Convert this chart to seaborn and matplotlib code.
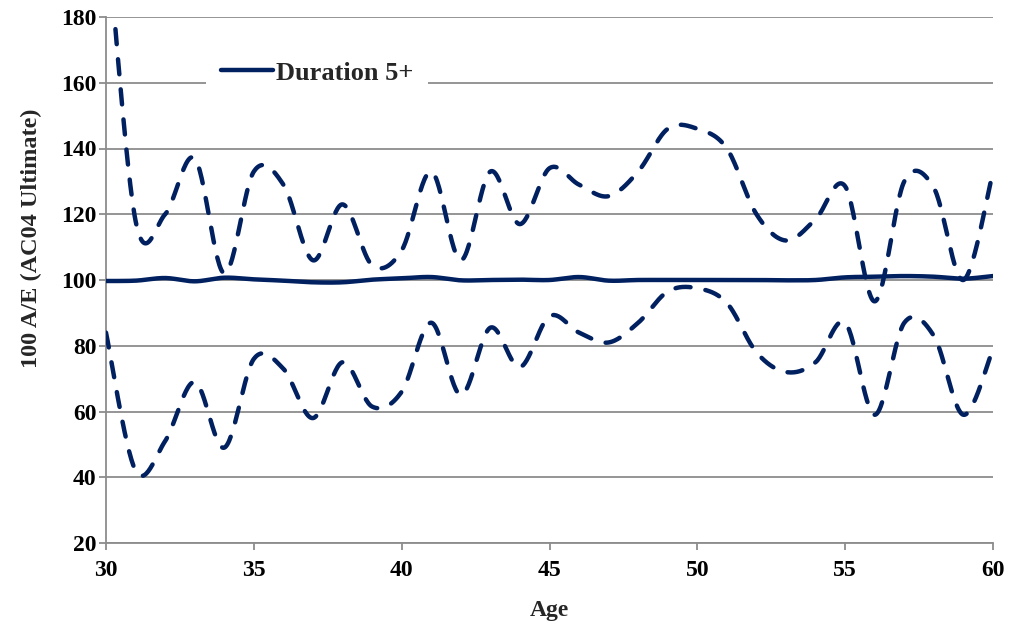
import numpy as np
import pandas as pd
import matplotlib
matplotlib.use("Agg")
import matplotlib.pyplot as plt
import seaborn as sns

# ---------------- data ----------------
ages = list(range(30, 61))
duration5 = [99.7, 99.8, 100.6, 99.6, 100.7, 100.2, 99.8, 99.3, 99.3, 100.1,
             100.5, 100.9, 99.9, 100.0, 100.1, 100.0, 100.9, 99.8, 100.0, 100.0,
             100.0, 100.0, 100.0, 99.9, 100.0, 100.8, 101.0, 101.2, 101.0, 100.4,
             101.2]
upper_ci = [210, 118, 120, 137, 102, 133, 129, 106, 123, 104.5,
            109, 133, 106, 133, 117, 134, 129, 125.5, 133, 146,
            146, 140, 120, 112, 118.5, 128.5, 93.5, 130, 128, 100,
            133]
lower_ci = [84, 42, 51, 69, 49, 76, 73, 58, 75, 61.5,
            66, 87, 65, 85.5, 73.5, 89, 84, 81, 87, 96.5,
            97.5, 93, 78, 72, 75, 87, 59, 87, 83, 59,
            79]
series_label = "Duration 5+"
x_label = "Age"
y_label = "100 A/E (AC04 Ultimate)"
x_ticks = [30, 35, 40, 45, 50, 55, 60]
y_ticks = [20, 40, 60, 80, 100, 120, 140, 160, 180]

NAVY = "#002060"
GRID = "#8c8c8c"
FONT = "Liberation Serif"


def smooth(xs, ys, n=30):
    """Excel-style smoothed line (cubic Bezier through the points)."""
    P = np.column_stack([xs, ys]).astype(float)
    m = len(P)
    out = []
    for i in range(m - 1):
        p0 = P[i - 1] if i > 0 else P[i]
        p1, p2 = P[i], P[i + 1]
        p3 = P[i + 2] if i + 2 < m else P[i + 1]
        c1 = p1 + (p2 - p0) / 6.0
        c2 = p2 - (p3 - p1) / 6.0
        t = np.linspace(0, 1, n, endpoint=(i == m - 2))[:, None]
        seg = ((1 - t) ** 3) * p1 + 3 * ((1 - t) ** 2) * t * c1 + 3 * (1 - t) * t ** 2 * c2 + t ** 3 * p2
        out.append(seg)
    out = np.vstack(out)
    return out[:, 0], out[:, 1]


sns.set_theme(style="white")
plt.rcParams["font.family"] = [FONT, "DejaVu Serif"]
plt.rcParams["font.weight"] = "bold"

fig = plt.figure(figsize=(10.11, 6.26), dpi=100)
ax = fig.add_axes([106 / 1011, 1 - 543 / 626, (993 - 106) / 1011, (543 - 17) / 626])

frames = []
for name, vals in [("mid", duration5), ("up", upper_ci), ("lo", lower_ci)]:
    sx, sy = smooth(ages, vals)
    frames.append(pd.DataFrame({"Age": sx, "val": sy, "series": name}))
df = pd.concat(frames, ignore_index=True)

lw = 3.2
dash = (0, (3.4, 3.4))
sns.lineplot(data=df[df.series == "up"], x="Age", y="val", ax=ax, color=NAVY,
             lw=lw, sort=False, estimator=None, legend=False,
             linestyle=dash, dash_capstyle="round", zorder=3)
sns.lineplot(data=df[df.series == "lo"], x="Age", y="val", ax=ax, color=NAVY,
             lw=lw, sort=False, estimator=None, legend=False,
             linestyle=dash, dash_capstyle="round", zorder=3)
sns.lineplot(data=df[df.series == "mid"], x="Age", y="val", ax=ax, color=NAVY,
             lw=lw, sort=False, estimator=None, label=series_label,
             solid_capstyle="round", zorder=4)

ax.set_xlim(30, 60)
ax.set_ylim(20, 180)
ax.set_xticks(x_ticks)
ax.set_yticks(y_ticks)
ax.set_xticklabels([str(t) for t in x_ticks], fontsize=17, fontweight="bold")
ax.set_yticklabels([str(t) for t in y_ticks], fontsize=17, fontweight="bold")
ax.set_xlabel(x_label, fontsize=17, fontweight="bold", labelpad=14)
ax.set_ylabel(y_label, fontsize=17.5, fontweight="bold")
ax.yaxis.set_label_coords(-0.072, 0.58)

ax.grid(axis="y", color=GRID, lw=1.3)
ax.grid(axis="x", visible=False)
ax.set_axisbelow(True)
for s in ["top", "right"]:
    ax.spines[s].set_visible(False)
for s in ["left", "bottom"]:
    ax.spines[s].set_color(GRID)
    ax.spines[s].set_linewidth(1.3)
ax.tick_params(axis="both", which="major", direction="out", length=5, width=1.3,
               color=GRID, left=True, bottom=True, labelcolor="black")
ax.tick_params(axis="y", pad=2)
ax.tick_params(axis="x", pad=7)

leg = ax.legend(loc="center left", bbox_to_anchor=((206 - 106) / 887, 1 - (73 - 17) / 526),
                borderaxespad=0, frameon=True, fancybox=False, framealpha=1,
                facecolor="white", edgecolor="none",
                handlelength=2.0, handletextpad=0.12, borderpad=0.55,
                prop={"weight": "bold", "size": 19, "family": FONT})
for h in leg.get_lines():
    h.set_linewidth(lw)
    h.set_solid_capstyle("round")

fig.savefig("out.png", dpi=100, facecolor="white")
